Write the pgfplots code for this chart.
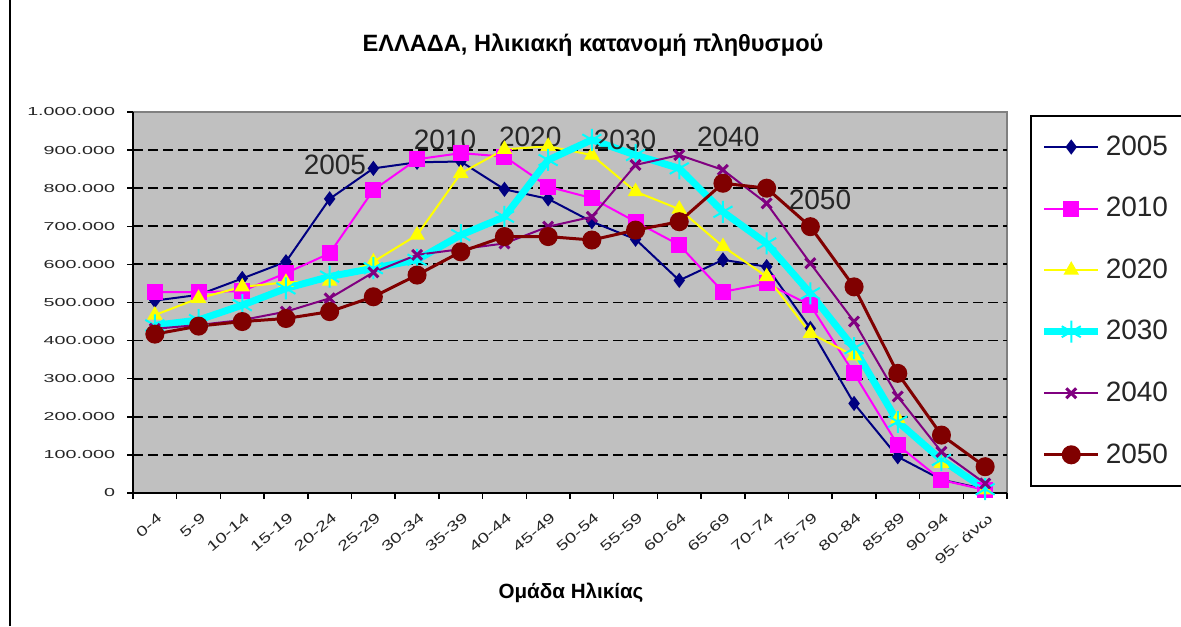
\documentclass[border=0pt]{standalone}
\usepackage{fontspec}
\setmainfont{Liberation Sans}
\usepackage{graphicx}
\usepackage{pgfplots}
\usepackage{pgfplotstable}
\pgfplotsset{compat=1.18}
\definecolor{c05}{HTML}{000080}
\definecolor{c10}{HTML}{FF00FF}
\definecolor{c20}{HTML}{FFFF00}
\definecolor{c30}{HTML}{00FFFF}
\definecolor{c40}{HTML}{800080}
\definecolor{c50}{HTML}{800000}
\definecolor{plotgray}{HTML}{C0C0C0}
\newcommand{\xl}[1]{\scalebox{1.4}[1]{#1}}
\pgfplotstableread{
x y05 y10 y20 y30 y40 y50
0 505000 527000 467000 440000 431000 417000
1 520000 527000 511000 454000 441000 438000
2 563000 530000 541000 493000 454000 450000
3 607000 577000 553000 537000 476000 458000
4 772000 629000 556000 568000 511000 476000
5 852000 795000 607000 590000 579000 515000
6 868000 876000 677000 612000 625000 572000
7 870000 892000 839000 677000 640000 633000
8 797000 883000 902000 725000 655000 673000
9 772000 804000 910000 874000 699000 673000
10 712000 774000 887000 927000 725000 664000
11 666000 712000 791000 887000 861000 690000
12 558000 651000 745000 852000 887000 712000
13 612000 528000 647000 738000 848000 813000
14 594000 550000 568000 655000 760000 800000
15 432000 493000 419000 524000 603000 699000
16 235000 314000 360000 380000 450000 541000
17 95000 126000 195000 187000 253000 314000
18 35000 34000 78000 87000 108000 152000
19 10000 8000 8000 10000 25000 69000
}\popdata
\begin{document}
\begin{tikzpicture}
\useasboundingbox (0pt,0pt) rectangle (590.5pt,313pt);
\fill[white] (0pt,0pt) rectangle (590.5pt,313pt);
\draw[black, line width=0.75pt] (5pt,0pt) -- (5pt,313pt);
\node[font=\bfseries\fontsize{11.8}{14}\selectfont] at (296.5pt,290.5pt) {ΕΛΛΑΔΑ, Ηλικιακή κατανομή πληθυσμού};
\node[font=\bfseries\fontsize{10.3}{12}\selectfont] at (285.5pt,16.5pt) {Ομάδα Ηλικίας};
\begin{axis}[
  at={(66.5pt,66.5pt)}, anchor=south west,
  width=437pt, height=190.5pt, scale only axis,
  xmin=-0.5, xmax=19.5, ymin=0, ymax=1000000,
  clip=false,
  axis background/.style={fill=plotgray, draw=black!50, line width=0.75pt},
  axis x line*=bottom, axis y line*=left,
  axis line style={-, black, line width=1pt},
  tick align=outside,
  major tick length=3pt, minor tick length=3pt,
  xtick={0,...,19},
  xticklabels={\xl{0-4},\xl{5-9},\xl{10-14},\xl{15-19},\xl{20-24},\xl{25-29},\xl{30-34},\xl{35-39},\xl{40-44},\xl{45-49},\xl{50-54},\xl{55-59},\xl{60-64},\xl{65-69},\xl{70-74},\xl{75-79},\xl{80-84},\xl{85-89},\xl{90-94},\xl{95- άνω}},
  major x tick style={draw=none},
  minor xtick={-0.5,0.5,...,19.5},
  minor x tick style={black, line width=0.75pt},
  ytick={0,100000,...,1000000},
  yticklabels={0,100.000,200.000,300.000,400.000,500.000,600.000,700.000,800.000,900.000,1.000.000},
  scaled y ticks=false,
  ytick style={black, line width=0.75pt},
  extra y ticks={100000,200000,300000,400000,500000,600000,700000,800000,900000},
  extra y tick labels={},
  extra y tick style={grid=major, major grid style={black, line width=0.9pt, dash pattern=on 5pt off 2.5pt}},
  yticklabel style={font=\fontsize{5.8}{6}\selectfont, xscale=1.7, anchor=east, text=black!85},
  xticklabel style={font=\fontsize{7}{7}\selectfont, rotate=40, anchor=north east, inner sep=1.5pt, xshift=-2pt, yshift=-4pt, text=black!85},
  legend style={at={(1.0263,0.992)}, anchor=north west, draw=black, line width=0.75pt,
    font=\fontsize{14}{16}\selectfont, row sep=15.5pt, inner ysep=8pt, inner xsep=5pt, text=black!85},
  legend cell align=left,
  legend image code/.code={\draw[mark repeat=2,mark phase=2,#1] plot coordinates {(0pt,0pt) (13.5pt,0pt) (27pt,0pt)};},
]
\addplot[color=c05, line width=1pt, mark=diamond*, mark size=3pt, mark options={solid, fill=c05}] table[x=x, y=y05] {\popdata};
\addlegendentry{2005}
\addplot[color=c10, line width=1pt, mark=square*, mark size=3.5pt, mark options={solid, fill=c10}] table[x=x, y=y10] {\popdata};
\addlegendentry{2010}
\addplot[color=c20, line width=1pt, mark=triangle*, mark size=3.5pt, mark options={solid, fill=c20}] table[x=x, y=y20] {\popdata};
\addlegendentry{2020}
\addplot[color=c30, line width=3.5pt, mark=asterisk, mark size=5.5pt, mark options={solid, line width=1pt}] table[x=x, y=y30] {\popdata};
\addlegendentry{2030}
\addplot[color=c40, line width=1pt, mark=x, mark size=3.5pt, mark options={solid, line width=1.5pt}] table[x=x, y=y40] {\popdata};
\addlegendentry{2040}
\addplot[color=c50, line width=1.5pt, mark=*, mark size=4pt, mark options={solid, fill=c50}] table[x=x, y=y50] {\popdata};
\addlegendentry{2050}
\node[font=\fontsize{14}{16}\selectfont, text=black!85] at (axis cs:4.12,861000) {2005};
\node[font=\fontsize{14}{16}\selectfont, text=black!85] at (axis cs:6.64,926000) {2010};
\node[font=\fontsize{14}{16}\selectfont, text=black!85] at (axis cs:8.59,934000) {2020};
\node[font=\fontsize{14}{16}\selectfont, text=black!85] at (axis cs:10.76,926000) {2030};
\node[font=\fontsize{14}{16}\selectfont, text=black!85] at (axis cs:13.12,934000) {2040};
\node[font=\fontsize{14}{16}\selectfont, text=black!85] at (axis cs:15.22,769000) {2050};
\end{axis}
\end{tikzpicture}
\end{document}
